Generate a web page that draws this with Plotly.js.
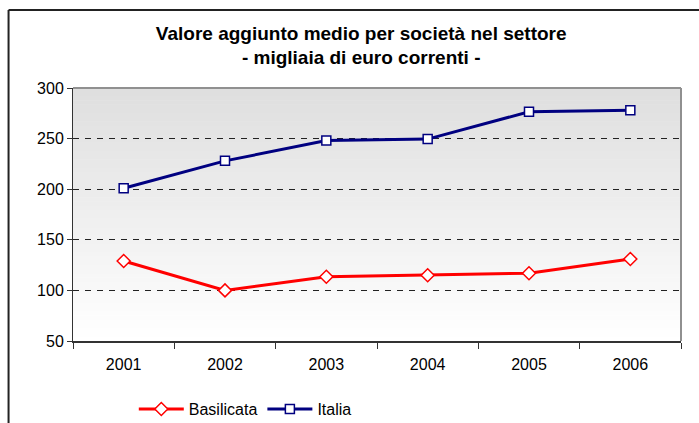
<!DOCTYPE html>
<html>
<head>
<meta charset="utf-8">
<script src="https://cdn.plot.ly/plotly-3.0.1.min.js"></script>
<style>html,body{margin:0;padding:0;background:#fff;}#chart{width:699px;height:423px;}</style>
</head>
<body>
<div id="chart"></div>
<script>
const years = ["2001", "2002", "2003", "2004", "2005", "2006"];
const basilicata = [129, 100, 113.5, 115, 117, 131];
const italia = [201, 228, 248, 249.5, 276.5, 278];
const yTicks = [50, 100, 150, 200, 250, 300];

const FONT = "Liberation Sans, Arial, sans-serif";

// gradient background for the plot area (grey at top to white at bottom)
const shapes = [];
const bands = 60;
for (let i = 0; i < bands; i++) {
  const t = i / bands;
  const v = Math.round(255 - (255 - 222) * t);
  shapes.push({type: "rect", xref: "paper", yref: "paper", x0: 0, x1: 1,
    y0: t, y1: (i + 1) / bands + 0.002, layer: "below", line: {width: 0},
    fillcolor: `rgb(${v},${v},${v})`});
}
// plot area top and right border
shapes.push({type: "line", xref: "paper", yref: "paper", x0: 0, x1: 1, y0: 1, y1: 1, line: {color: "#909090", width: 2}});
shapes.push({type: "line", xref: "paper", yref: "paper", x0: 1, x1: 1, y0: 0, y1: 1, line: {color: "#909090", width: 2}});
// outer chart frame (top and left visible)
shapes.push({type: "line", xref: "paper", yref: "paper", x0: -0.106, x1: 1.1, y0: 1.308, y1: 1.308, line: {color: "#222", width: 2}});
shapes.push({type: "line", xref: "paper", yref: "paper", x0: -0.106, x1: -0.106, y0: -0.4, y1: 1.308, line: {color: "#222", width: 2}});

const traces = [
  {x: years, y: basilicata, name: "Basilicata", type: "scatter", mode: "lines+markers",
   line: {color: "#FF0000", width: 3},
   marker: {symbol: "diamond", size: 10, color: "#FFFFFF", line: {color: "#FF0000", width: 1.5}}},
  {x: years, y: italia, name: "Italia", type: "scatter", mode: "lines+markers",
   line: {color: "#000080", width: 3},
   marker: {symbol: "square", size: 9, color: "#FFFFFF", line: {color: "#000080", width: 1.5}}}
];

const layout = {
  width: 699, height: 423,
  margin: {l: 73, r: 18, t: 88, b: 82},
  paper_bgcolor: "#FFFFFF",
  plot_bgcolor: "rgba(0,0,0,0)",
  font: {family: FONT, size: 16, color: "#000"},
  title: {text: "<b>Valore aggiunto medio per società nel settore<br>- migliaia di euro correnti -</b>",
    font: {family: FONT, size: 19, color: "#000"},
    x: 0.474, xref: "paper", xanchor: "center", y: 0.906, yref: "container", yanchor: "top",
    automargin: false},
  xaxis: {type: "category", tickson: "boundaries", ticks: "outside", ticklen: 6, tickcolor: "#333",
    showline: true, linecolor: "#333", linewidth: 2, showgrid: false, zeroline: false,
    ticklabelstandoff: 8, tickfont: {family: FONT, size: 16, color: "#000"},
    range: [-0.5, 5.5], fixedrange: true, automargin: false},
  yaxis: {range: [50, 300], tickvals: yTicks, ticks: "outside", ticklen: 5, tickcolor: "#333",
    showline: true, linecolor: "#333", linewidth: 1, zeroline: false,
    showgrid: true, gridcolor: "#222", griddash: "6px,6px", gridwidth: 1,
    tickfont: {family: FONT, size: 16, color: "#000"}, fixedrange: true, automargin: false},
  showlegend: true,
  legend: {orientation: "h", x: 0.1, xanchor: "left", yref: "container", y: 0.033, yanchor: "middle",
    font: {family: FONT, size: 16, color: "#000"}, bgcolor: "rgba(0,0,0,0)", itemwidth: 45, tracegroupgap: 0},
  shapes: shapes
};

Plotly.newPlot("chart", traces, layout, {displayModeBar: false, staticPlot: true});
</script>
</body>
</html>
